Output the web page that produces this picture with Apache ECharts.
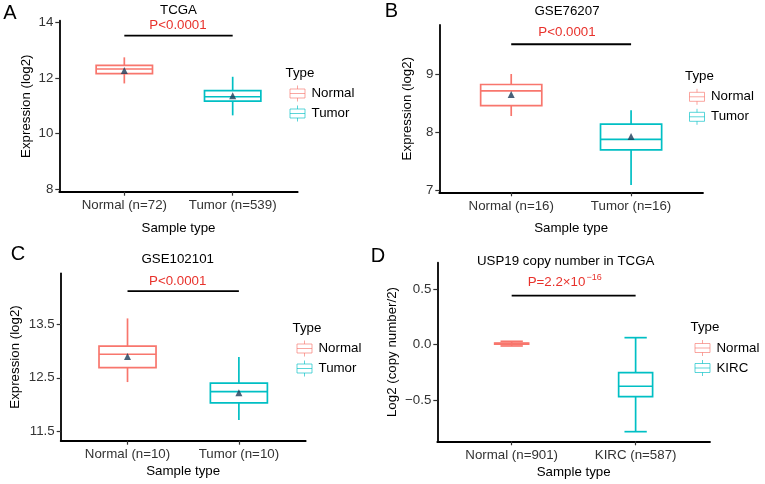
<!DOCTYPE html>
<html>
<head>
<meta charset="utf-8">
<script src="https://cdn.jsdelivr.net/npm/echarts@6/dist/echarts.min.js"></script>
<style>
  html, body { margin: 0; padding: 0; background: #fff; }
  #chart { width: 765px; height: 484px; }
</style>
</head>
<body>
<div id="chart"></div>
<script>
// values: [min, q1, median, q3, max] per group
const categoriesA = ['Normal (n=72)', 'Tumor (n=539)']
const statsA = [[11.80, 12.15, 12.32, 12.45, 12.74], [10.65, 11.16, 11.32, 11.54, 12.04]]
const meansA = [12.27, 11.36]
const sigA = 13.52
const yTicksA = [8, 10, 12, 14]

const categoriesB = ['Normal (n=16)', 'Tumor (n=16)']
const statsB = [[8.28, 8.46, 8.71, 8.82, 9.00], [7.10, 7.70, 7.88, 8.14, 8.38]]
const meansB = [8.65, 7.93]
const sigB = 9.51
const yTicksB = [7, 8, 9]

const categoriesC = ['Normal (n=10)', 'Tumor (n=10)']
const statsC = [[12.42, 12.69, 12.94, 13.09, 13.61], [11.71, 12.03, 12.24, 12.40, 12.89]]
const meansC = [12.90, 12.22]
const sigC = 14.12
const yTicksC = [11.5, 12.5, 13.5]

const categoriesD = ['Normal (n=901)', 'KIRC (n=587)']
const statsD = [[-0.012, 0.004, 0.009, 0.014, 0.030], [-0.786, -0.470, -0.376, -0.253, 0.063]]
const meansD = []
const sigD = 0.442
const yTicksD = [-0.5, 0, 0.5]

const legendA = ['Normal', 'Tumor']
const legendB = ['Normal', 'Tumor']
const legendC = ['Normal', 'Tumor']
const legendD = ['Normal', 'KIRC']

const groupColors = ['#F8766D', '#00BFC4']
const FONT = '"Liberation Sans", Arial, Helvetica, sans-serif'
const FS = 13.3

// layout of the four panels (pixels)
const panels = [
  { letter: 'A', title: 'TCGA', pText: 'P<0.0001', cats: categoriesA, stats: statsA, means: meansA, sig: sigA, ticks: yTicksA,
    grid: { left: 59.3, top: 20.7, width: 238.4, height: 171 }, yMin: 7.90, yMax: 14.06, dec: 0,
    yName: 'Expression (log2)', yGap: 26, xGap: 30, halfW: 0.26, cap: 0,
    letterPos: [10, 13], titlePos: [178.5, 10.7], pPos: [178, 25.7], legend: legendA, legendPos: [285.5, 73] },
  { letter: 'B', title: 'GSE76207', pText: 'P<0.0001', cats: categoriesB, stats: statsB, means: meansB, sig: sigB, ticks: yTicksB,
    grid: { left: 439.3, top: 25, width: 263.7, height: 167.3 }, yMin: 6.973, yMax: 9.84, dec: 0,
    yName: 'Expression (log2)', yGap: 25, xGap: 30, halfW: 0.255, cap: 0,
    letterPos: [391.5, 11], titlePos: [567, 11.7], pPos: [567, 32.3], legend: legendB, legendPos: [685, 76.3] },
  { letter: 'C', title: 'GSE102101', pText: 'P<0.0001', cats: categoriesC, stats: statsC, means: meansC, sig: sigC, ticks: yTicksC,
    grid: { left: 60.7, top: 273.3, width: 245, height: 167.4 }, yMin: 11.324, yMax: 14.453, dec: 1,
    yName: 'Expression (log2)', yGap: 39, xGap: 24.5, halfW: 0.256, cap: 0,
    letterPos: [18, 254], titlePos: [177.7, 259.5], pPos: [177.7, 281], legend: legendC, legendPos: [292.5, 328] },
  { letter: 'D', title: 'USP19 copy number in TCGA', pText: null, cats: categoriesD, stats: statsD, means: meansD, sig: sigD, ticks: yTicksD,
    grid: { left: 437.3, top: 262.7, width: 272.7, height: 178.6 }, yMin: -0.873, yMax: 0.740, dec: 1,
    yName: 'Log2 (copy number/2)', yGap: 38, xGap: 25, halfW: 0.137, cap: 0.09,
    letterPos: [378, 256], titlePos: [565.7, 261.7], pPos: [563, 282.3], legend: legendD, legendPos: [690.5, 327.5] }
]

function fmtTick(v, dec) {
  return (+v).toFixed(dec).replace('-', '\u2212')
}

function makeBoxRenderer(halfW, capHalf) {
  return function (params, api) {
    const x = api.value(0)
    const color = groupColors[params.dataIndex]
    const py = i => api.coord([x, api.value(i)])[1]
    const cx = api.coord([x, 0])[0]
    const xl = api.coord([x - halfW, 0])[0]
    const xr = api.coord([x + halfW, 0])[0]
    const yMin = py(1), yQ1 = py(2), yMed = py(3), yQ3 = py(4), yMax = py(5)
    const st = { stroke: color, lineWidth: 1.7, fill: 'none' }
    const children = [
      { type: 'line', shape: { x1: cx, y1: yMax, x2: cx, y2: yQ3 }, style: st },
      { type: 'line', shape: { x1: cx, y1: yQ1, x2: cx, y2: yMin }, style: st },
      { type: 'rect', shape: { x: xl, y: yQ3, width: xr - xl, height: yQ1 - yQ3 }, style: { stroke: color, lineWidth: 1.7, fill: '#fff' } },
      { type: 'line', shape: { x1: xl, y1: yMed, x2: xr, y2: yMed }, style: st }
    ]
    if (capHalf) {
      const cl = api.coord([x - capHalf, 0])[0]
      const cr = api.coord([x + capHalf, 0])[0]
      children.push({ type: 'line', shape: { x1: cl, y1: yMax, x2: cr, y2: yMax }, style: st })
      children.push({ type: 'line', shape: { x1: cl, y1: yMin, x2: cr, y2: yMin }, style: st })
    }
    return { type: 'group', children }
  }
}

function txt(x, y, text, opts) {
  const o = opts || {}
  return {
    type: 'text', x, y, silent: true,
    style: {
      text, fill: o.fill || '#000', font: (o.size || FS) + 'px ' + FONT,
      align: o.align || 'center', textAlign: o.align || 'center',
      verticalAlign: 'middle', textVerticalAlign: 'middle'
    }
  }
}

function legendEls(left, top, labels) {
  const els = [txt(left, top, 'Type', { align: 'left' })]
  labels.forEach((lab, i) => {
    const cy = top + 20.5 + i * 20
    const kx = left + 4.5
    const c = groupColors[i]
    const st = { stroke: c, lineWidth: 1, fill: 'none', opacity: 0.65 }
    els.push({ type: 'rect', silent: true, shape: { x: kx, y: cy - 4.5, width: 15, height: 9 }, style: st })
    els.push({ type: 'line', silent: true, shape: { x1: kx, y1: cy, x2: kx + 15, y2: cy }, style: st })
    els.push({ type: 'line', silent: true, shape: { x1: kx + 7.5, y1: cy - 8, x2: kx + 7.5, y2: cy - 4.5 }, style: st })
    els.push({ type: 'line', silent: true, shape: { x1: kx + 7.5, y1: cy + 4.5, x2: kx + 7.5, y2: cy + 8 }, style: st })
    els.push(txt(left + 26, cy, lab, { align: 'left' }))
  })
  return els
}

const grids = [], xAxes = [], yAxes = [], series = [], graphics = []

panels.forEach((p, i) => {
  grids.push(Object.assign({ containLabel: false }, p.grid))
  xAxes.push({
    type: 'value', gridIndex: i, min: 0.4, max: 2.6,
    name: 'Sample type', nameLocation: 'middle', nameGap: p.xGap,
    nameTextStyle: { fontSize: FS, fontFamily: FONT, color: '#000' },
    axisLine: { show: true, onZero: false, lineStyle: { color: '#000', width: 1.8 } },
    axisTick: { show: true, length: 4, customValues: [1, 2], lineStyle: { color: '#333', width: 1.2 } },
    axisLabel: { customValues: [1, 2], margin: 7.5, fontSize: FS, fontFamily: FONT, color: '#333',
      formatter: v => p.cats[Math.round(v) - 1] },
    splitLine: { show: false }
  })
  yAxes.push({
    type: 'value', gridIndex: i, min: p.yMin, max: p.yMax,
    name: p.yName, nameLocation: 'middle', nameGap: p.yGap, nameRotate: 90,
    nameTextStyle: { fontSize: FS, fontFamily: FONT, color: '#000' },
    axisLine: { show: true, onZero: false, lineStyle: { color: '#000', width: 1.8 } },
    axisTick: { show: true, length: 4, customValues: p.ticks, lineStyle: { color: '#333', width: 1.2 } },
    axisLabel: { customValues: p.ticks, margin: 6, fontSize: FS, fontFamily: FONT, color: '#333',
      formatter: v => fmtTick(v, p.dec) },
    splitLine: { show: false }
  })
  series.push({
    type: 'custom', name: 'box' + p.letter, xAxisIndex: i, yAxisIndex: i, silent: true,
    renderItem: makeBoxRenderer(p.halfW, p.cap),
    encode: { x: 0, y: [1, 2, 3, 4, 5] },
    data: p.stats.map((s, k) => [k + 1].concat(s)),
    z: 2
  })
  if (p.means.length) {
    series.push({
      type: 'scatter', name: 'mean' + p.letter, xAxisIndex: i, yAxisIndex: i, silent: true,
      symbol: 'triangle', symbolSize: 7,
      itemStyle: { color: '#1C3B57' },
      data: p.means.map((m, k) => [k + 1, m]),
      z: 5
    })
  }
  series.push({
    type: 'line', name: 'sig' + p.letter, xAxisIndex: i, yAxisIndex: i, silent: true,
    symbol: 'none', lineStyle: { color: '#000', width: 1.8 },
    data: [[1, p.sig], [2, p.sig]],
    z: 3
  })

  graphics.push(txt(p.letterPos[0], p.letterPos[1], p.letter, { size: 20 }))
  graphics.push(txt(p.titlePos[0], p.titlePos[1], p.title))
  if (p.pText) {
    graphics.push(txt(p.pPos[0], p.pPos[1], p.pText, { fill: '#E8322C' }))
  }
  legendEls(p.legendPos[0], p.legendPos[1], p.legend).forEach(e => graphics.push(e))
})

// panel D p-value with superscript exponent
graphics.push(txt(527.7, 282.3, 'P=2.2\u00D710', { fill: '#E8322C', align: 'left' }))
graphics.push(txt(586.5, 277.3, '\u221216', { fill: '#E8322C', align: 'left', size: 9 }))

const chart = echarts.init(document.getElementById('chart'))
chart.setOption({
  backgroundColor: '#fff',
  animation: false,
  textStyle: { fontFamily: FONT },
  grid: grids,
  xAxis: xAxes,
  yAxis: yAxes,
  series: series,
  graphic: { elements: graphics }
})
</script>
</body>
</html>
